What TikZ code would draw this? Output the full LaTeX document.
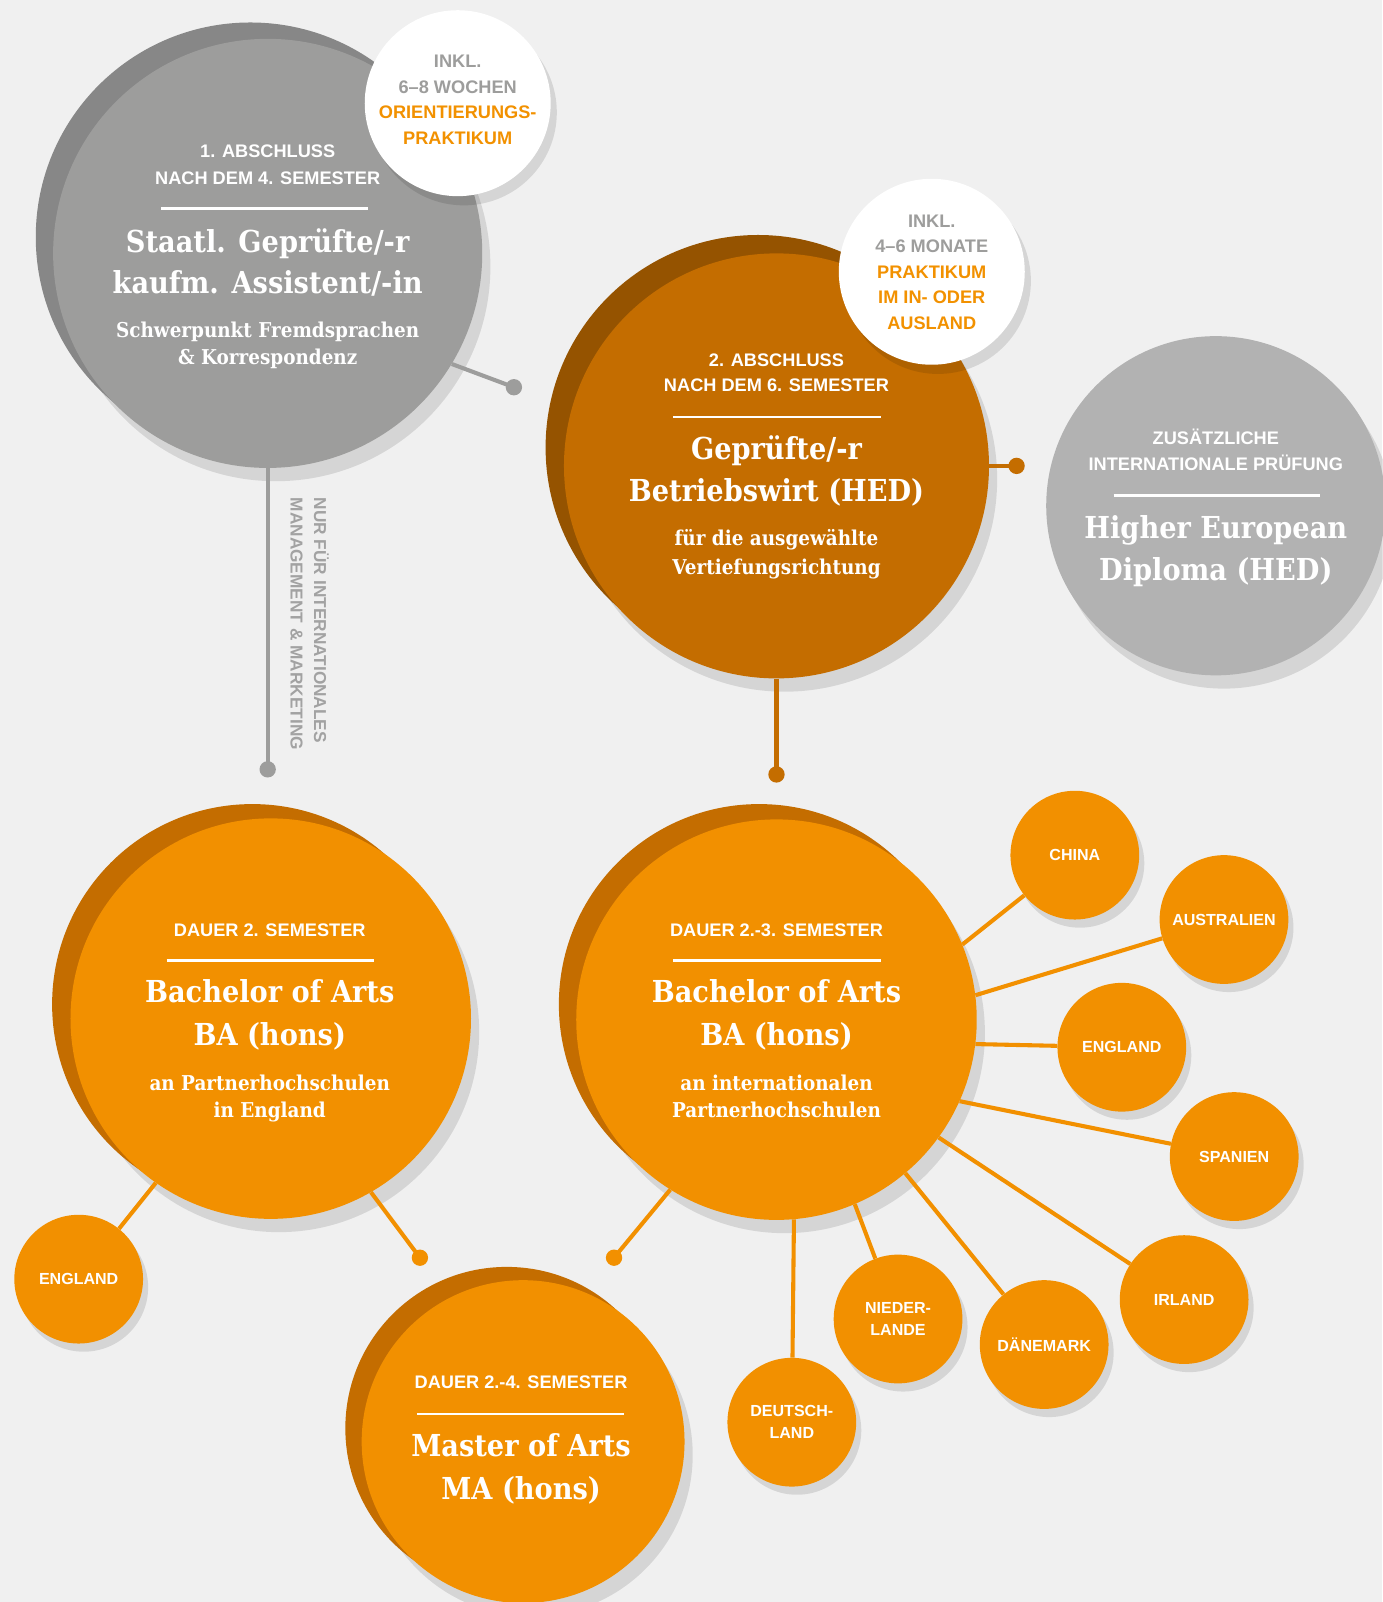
\documentclass[tikz,border=0pt]{standalone}
\usepackage{fontspec}
\setmainfont{DejaVu Serif}
\newfontfamily\slabf[FakeStretch=0.9]{DejaVu Serif}
\newfontfamily\capf{Liberation Sans}
\usetikzlibrary{calc}
\pgfdeclarelayer{bg}
\pgfdeclarelayer{lines}
\pgfsetlayers{bg,lines,main}

\definecolor{bgc}{HTML}{F0F0F0}
\definecolor{grayM}{HTML}{9D9D9C}
\definecolor{grayD}{HTML}{878787}
\definecolor{grayH}{HTML}{B2B2B2}
\definecolor{brownM}{HTML}{C46D00}
\definecolor{brownD}{HTML}{955300}
\definecolor{orM}{HTML}{F29000}
\definecolor{orD}{HTML}{C46D00}
\definecolor{orT}{HTML}{F29100}
\definecolor{grT}{HTML}{9D9D9C}
\definecolor{vtext}{HTML}{A2A2A2}

\tikzset{
  disc/.style 2 args={circle, inner sep=0pt, minimum size=#1, fill=#2},
  dotnode/.style={circle, inner sep=0pt, minimum size=16pt, fill=#1},
  capsw/.style={font=\capf\bfseries\fontsize{17.8}{20}\selectfont, text=white, inner sep=0pt},
  titlew/.style={font=\slabf\bfseries\fontsize{29.6}{34}\selectfont, text=white, inner sep=0pt},
  subw/.style={font=\slabf\bfseries\fontsize{20}{24}\selectfont, text=white, inner sep=0pt},
  bubg/.style={font=\capf\bfseries\fontsize{17.8}{20}\selectfont, text=grT, inner sep=0pt},
  bubo/.style={font=\capf\bfseries\fontsize{17.8}{20}\selectfont, text=orT, inner sep=0pt},
  country/.style={circle, inner sep=0pt, minimum size=126pt, fill=orM,
     font=\capf\bfseries\fontsize{15.7}{21.5}\selectfont, text=white, align=center},
  rulew/.style={white, line width=2.5pt},
  gline/.style={grayM, line width=4pt},
  bline/.style={brownM, line width=4pt},
  oline/.style={orM, line width=4pt},
  shade/.style={fill=black, fill opacity=0.11},
}

\newcommand\tl[5]{\node[#2, anchor=base] (#1) at (#3,#4) {#5};}
\newcommand\backing[4]{%
  \begin{pgfonlayer}{bg}
    \fill[shade] ($(#1)+(8,13)$) circle (#2);
    \fill[#3] ($(#1)+(#4)$) circle (#2);
  \end{pgfonlayer}}
\newcommand\smallshade[1]{%
  \begin{pgfonlayer}{bg}
    \fill[shade] ($(#1)+(5,8)$) circle (63pt);
  \end{pgfonlayer}}

\begin{document}
\begin{tikzpicture}[x=1pt, y=-1pt]
\useasboundingbox (0,0) rectangle (1353,1568);
\begin{pgfonlayer}{bg}
  \fill[bgc] (0,0) rectangle (1353,1568);
\end{pgfonlayer}

% big circles
\node[disc={420pt}{grayM}] (c1) at (262,248) {};
\backing{c1}{210pt}{grayD}{-17,-16}
\node[disc={416pt}{brownM}] (c2) at (760,456) {};
\backing{c2}{208pt}{brownD}{-18,-18}
\node[disc={332pt}{grayH}] (hed) at (1190,495) {};
\begin{pgfonlayer}{bg}\fill[shade] ($(hed)+(8,13)$) circle (166pt);\end{pgfonlayer}
\node[disc={392pt}{orM}] (bl) at (265,997) {};
\backing{bl}{196pt}{orD}{-18,-14}
\node[disc={392pt}{orM}] (br) at (760,998) {};
\backing{br}{196pt}{orD}{-17,-15}
\node[disc={316pt}{orM}] (ma) at (512,1411) {};
\backing{ma}{158pt}{orD}{-16,-13}

% bubbles
\fill[shade] (454,110) circle (91pt);
\node[disc={182pt}{white}] (b1) at (448,101) {};
\fill[shade] (918,275) circle (91pt);
\node[disc={182pt}{white}] (b2) at (912,266) {};

% country circles
\node[country] (china) at (1052,837) {CHINA};
\node[country] (austr) at (1198,900) {AUSTRALIEN};
\node[country] (engR) at (1098,1025) {ENGLAND};
\node[country] (spain) at (1208,1132) {SPANIEN};
\node[country] (irl) at (1159,1272) {IRLAND};
\node[country] (dk) at (1022,1316) {DÄNEMARK};
\node[country] (nl) at (879,1291) {NIEDER-\\LANDE};
\node[country] (de) at (775,1392) {DEUTSCH-\\LAND};
\node[country] (engL) at (77,1252) {ENGLAND};
\smallshade{china}\smallshade{austr}\smallshade{engR}\smallshade{spain}
\smallshade{irl}\smallshade{dk}\smallshade{nl}\smallshade{de}\smallshade{engL}

% dots
\node[dotnode=grayM] (d1) at (262,753) {};
\node[dotnode=grayM] (d2) at (503,379) {};
\node[dotnode=brownM] (d3) at (760,758) {};
\node[dotnode=brownM] (d4) at (995,456) {};
\node[dotnode=orM] (d5) at (411,1231) {};
\node[dotnode=orM] (d6) at (601,1231) {};

% connectors
\begin{pgfonlayer}{lines}
  \draw[gline] (c1.south) -- (d1.center);
  \draw[gline] (c1.-31.5) -- (d2.center);
  \draw[bline] (c2.south) -- (d3.center);
  \draw[bline] (c2.east) -- (d4.center);
  \draw[oline] (bl.-125.5) -- (engL);
  \draw[oline] (bl.-60.4) -- (d5.center);
  \draw[oline] (br.-122.3) -- (d6.center);
  \draw[oline] (br.22.9) -- (china);
  \draw[oline] (br.7.9) -- (austr);
  \draw[oline] (br.-7.3) -- (engR);
  \draw[oline] (br.-24.8) -- (spain);
  \draw[oline] (br.-36.9) -- (irl);
  \draw[oline] (br.-50.5) -- (dk);
  \draw[oline] (br.-67.2) -- (nl);
  \draw[oline] (br.-85.6) -- (de);
\end{pgfonlayer}

% vertical label
\node[rotate=-90, anchor=north west, inner sep=0pt, align=left, text=vtext,
  font=\capf\bfseries\fontsize{16.9}{23}\selectfont] (vlab) at (322,487)
  {NUR FÜR INTERNATIONALES\\MANAGEMENT \& MARKETING};

% texts circle 1
\tl{c1a}{capsw}{262}{154.4}{1. ABSCHLUSS}
\tl{c1b}{capsw}{262}{180.4}{NACH DEM 4. SEMESTER}
\draw[rulew] (158,204) -- (360,204);
\tl{c1t1}{titlew}{262}{246.7}{Staatl. Geprüfte/-r}
\tl{c1t2}{titlew}{262}{287.7}{kaufm. Assistent/-in}
\tl{c1s1}{subw}{262}{330}{Schwerpunkt Fremdsprachen}
\tl{c1s2}{subw}{262}{357}{\& Korrespondenz}

% bubble 1
\tl{b1a}{bubg}{448}{66.4}{INKL.}
\tl{b1b}{bubg}{448}{91.4}{6–8 WOCHEN}
\tl{b1c}{bubo}{448}{116.4}{ORIENTIERUNGS-}
\tl{b1d}{bubo}{448}{141.4}{PRAKTIKUM}

% circle 2
\tl{c2a}{capsw}{760}{358.4}{2. ABSCHLUSS}
\tl{c2b}{capsw}{760}{383.4}{NACH DEM 6. SEMESTER}
\draw[rulew] (659,408) -- (862,408);
\tl{c2t1}{titlew}{760}{449.7}{Geprüfte/-r}
\tl{c2t2}{titlew}{760}{490.7}{Betriebswirt (HED)}
\tl{c2s1}{subw}{760}{534}{für die ausgewählte}
\tl{c2s2}{subw}{760}{562}{Vertiefungsrichtung}

% bubble 2
\tl{b2a}{bubg}{912}{222.4}{INKL.}
\tl{b2b}{bubg}{912}{247.4}{4–6 MONATE}
\tl{b2c}{bubo}{912}{272.4}{PRAKTIKUM}
\tl{b2d}{bubo}{912}{297.4}{IM IN- ODER}
\tl{b2e}{bubo}{912}{322.4}{AUSLAND}

% HED
\tl{h1}{capsw}{1190}{435.4}{ZUSÄTZLICHE}
\tl{h2}{capsw}{1190}{460.4}{INTERNATIONALE PRÜFUNG}
\draw[rulew] (1090,485) -- (1292,485);
\tl{h3}{titlew}{1190}{526.7}{Higher European}
\tl{h4}{titlew}{1190}{567.7}{Diploma (HED)}

% BA left
\tl{bl1}{capsw}{264}{916.4}{DAUER 2. SEMESTER}
\draw[rulew] (163,940) -- (366,940);
\tl{bl2}{titlew}{264}{981.7}{Bachelor of Arts}
\tl{bl3}{titlew}{264}{1023.7}{BA (hons)}
\tl{bl4}{subw}{264}{1067}{an Partnerhochschulen}
\tl{bl5}{subw}{264}{1094}{in England}

% BA right
\tl{br1}{capsw}{760}{916.4}{DAUER 2.-3. SEMESTER}
\draw[rulew] (659,940) -- (862,940);
\tl{br2}{titlew}{760}{981.7}{Bachelor of Arts}
\tl{br3}{titlew}{760}{1023.7}{BA (hons)}
\tl{br4}{subw}{760}{1067}{an internationalen}
\tl{br5}{subw}{760}{1094}{Partnerhochschulen}

% Master
\tl{ma1}{capsw}{510}{1359.4}{DAUER 2.-4. SEMESTER}
\draw[rulew] (408,1384) -- (611,1384);
\tl{ma2}{titlew}{510}{1425.7}{Master of Arts}
\tl{ma3}{titlew}{510}{1467.7}{MA (hons)}
\end{tikzpicture}
\end{document}
